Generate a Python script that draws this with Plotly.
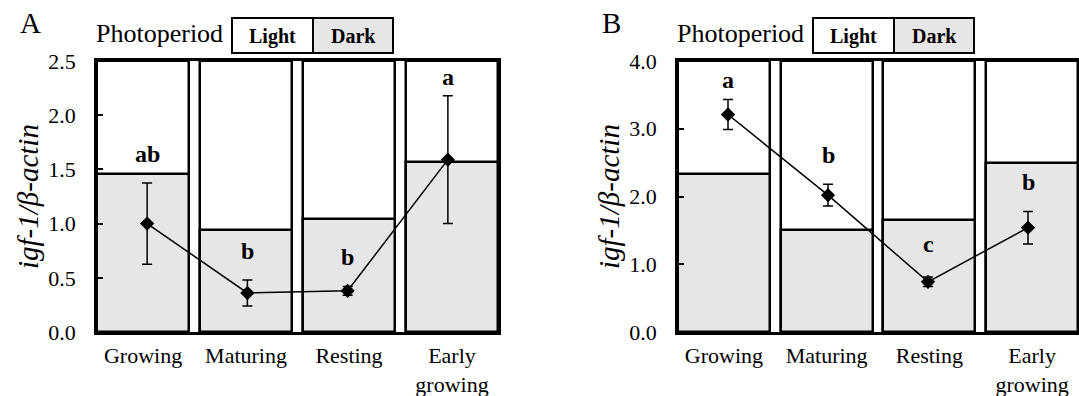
import plotly.graph_objects as go

# ---------------- data ----------------
stages = ["Growing", "Maturing", "Resting", "Early growing"]
tick_labels = ["Growing", "Maturing", "Resting", "Early<br>growing"]

# Panel A
a_ymax = 2.5
a_dark = [1.46, 0.94, 1.04, 1.57]          # photoperiod (dark share) scaled to axis
a_mean = [1.00, 0.36, 0.38, 1.59]
a_err = [0.375, 0.12, 0.04, 0.59]
a_letters = ["ab", "b", "b", "a"]
a_letter_y = [1.64, 0.75, 0.69, 2.35]

# Panel B
b_ymax = 4.0
b_dark = [2.33, 1.50, 1.66, 2.50]
b_mean = [3.21, 2.02, 0.74, 1.54]
b_err = [0.22, 0.16, 0.07, 0.24]
b_letters = ["a", "b", "c", "b"]
b_letter_y = [3.72, 2.61, 1.30, 2.21]

FONT = "Liberation Serif"
GRAY = "#e6e6e6"
W, H = 1079, 396

fig = go.Figure()

panels = [
    dict(xa="x", xb="x2", ya="y", ymax=a_ymax, dark=a_dark, mean=a_mean, err=a_err,
         letters=a_letters, ly=a_letter_y, dom=[97 / W, 498 / W], dtick=0.5, label="A"),
    dict(xa="x3", xb="x4", ya="y2", ymax=b_ymax, dark=b_dark, mean=b_mean, err=b_err,
         letters=b_letters, ly=b_letter_y, dom=[678 / W, 1078 / W], dtick=1.0, label="B"),
]

ydom = [(H - 332) / H, (H - 61) / H]
box_w = 0.894
box_half = 0.447

for i, p in enumerate(panels):
    # full-height light box
    fig.add_trace(go.Bar(x=stages, y=[p["ymax"]] * len(stages), xaxis=p["xa"], yaxis=p["ya"],
                         width=box_w, marker=dict(color="white", line=dict(color="black", width=2.5)),
                         showlegend=False, hoverinfo="skip"))
    # dark part
    fig.add_trace(go.Bar(x=stages, y=p["dark"], xaxis=p["xa"], yaxis=p["ya"],
                         width=box_w, marker=dict(color=GRAY, line=dict(color="black", width=2.5)),
                         showlegend=False, hoverinfo="skip"))
    # mean +/- error
    fig.add_trace(go.Scatter(x=stages, y=p["mean"], xaxis=p["xb"], yaxis=p["ya"],
                             mode="lines+markers",
                             line=dict(color="black", width=1.5),
                             marker=dict(symbol="diamond", size=11, color="black"),
                             error_y=dict(type="data", array=p["err"], color="black",
                                          thickness=1.5, width=5),
                             showlegend=False, cliponaxis=False))
    for s, t, yy in zip(stages, p["letters"], p["ly"]):
        fig.add_annotation(x=s, y=yy, xref=p["xb"], yref=p["ya"], text=f"<b>{t}</b>",
                           showarrow=False, font=dict(family=FONT, size=24, color="black"),
                           xanchor="center", yanchor="middle")

    x0, x1 = p["dom"]
    # y title
    fig.add_annotation(x=(x0 * W - 69) / W, y=(H - 197) / H, xref="paper", yref="paper",
                       text="<i>igf-1/β-actin</i>", textangle=-90, showarrow=False,
                       font=dict(family=FONT, size=29, color="black"),
                       xanchor="center", yanchor="middle")
    # panel label
    fig.add_annotation(x=(x0 * W - 67) / W, y=(H - 23) / H, xref="paper", yref="paper",
                       text=p["label"], showarrow=False,
                       font=dict(family=FONT, size=29, color="black"),
                       xanchor="center", yanchor="middle")
    # Photoperiod legend
    fig.add_annotation(x=x0, y=(H - 33) / H, xref="paper", yref="paper",
                       text="Photoperiod", showarrow=False,
                       font=dict(family=FONT, size=26, color="black"),
                       xanchor="left", yanchor="middle", xshift=-3)
    lx0 = x0 * W + 135
    lxm = lx0 + 81
    lx1 = lxm + 80
    fig.add_shape(type="rect", xref="paper", yref="paper", x0=lx0 / W, x1=lxm / W,
                  y0=(H - 53) / H, y1=(H - 18) / H, fillcolor="white",
                  line=dict(color="black", width=2))
    fig.add_shape(type="rect", xref="paper", yref="paper", x0=lxm / W, x1=lx1 / W,
                  y0=(H - 53) / H, y1=(H - 18) / H, fillcolor=GRAY,
                  line=dict(color="black", width=2))
    fig.add_annotation(x=(lx0 + lxm) / 2 / W, y=(H - 36) / H, xref="paper", yref="paper",
                       text="<b>Light</b>", showarrow=False,
                       font=dict(family=FONT, size=20, color="black"),
                       xanchor="center", yanchor="middle")
    fig.add_annotation(x=(lxm + lx1) / 2 / W, y=(H - 36) / H, xref="paper", yref="paper",
                       text="<b>Dark</b>", showarrow=False,
                       font=dict(family=FONT, size=20, color="black"),
                       xanchor="center", yanchor="middle")

axis_font = dict(family=FONT, size=22, color="black")

def xaxis_box(dom, anchor):
    return dict(domain=dom, anchor=anchor, type="category", categoryorder="array",
                categoryarray=stages, range=[-box_half, len(stages) - 1 + box_half],
                tickmode="array", tickvals=stages, ticktext=tick_labels,
                tickfont=dict(family=FONT, size=22, color="black"), ticks="",
                showline=True, linecolor="black", linewidth=2.5, mirror=True,
                showgrid=False, zeroline=False, fixedrange=True, ticklabelstandoff=2,
                automargin=False)

def xaxis_pts(over, anchor):
    return dict(overlaying=over, anchor=anchor, type="category", categoryorder="array",
                categoryarray=stages, range=[-0.5, len(stages) - 0.5],
                showticklabels=False, showgrid=False, zeroline=False, showline=False,
                ticks="", fixedrange=True, automargin=False)

def yaxis(anchor, ymax, dtick):
    return dict(domain=ydom, anchor=anchor, range=[0, ymax], dtick=dtick, tick0=0,
                tickformat=".1f", ticks="inside", ticklen=6, tickwidth=1.5, tickcolor="black",
                tickfont=axis_font, showline=True, linecolor="black", linewidth=2.5,
                mirror=True, showgrid=False, zeroline=False, fixedrange=True,
                ticklabelstandoff=14, automargin=False)

fig.update_layout(
    template="none",
    width=W, height=H,
    margin=dict(l=0, r=0, t=0, b=0, pad=0, autoexpand=False),
    paper_bgcolor="white", plot_bgcolor="white",
    barmode="overlay", bargap=0,
    font=dict(family=FONT, color="black"),
    xaxis=xaxis_box(panels[0]["dom"], "y"),
    xaxis2=xaxis_pts("x", "y"),
    xaxis3=xaxis_box(panels[1]["dom"], "y2"),
    xaxis4=xaxis_pts("x3", "y2"),
    yaxis=yaxis("x", a_ymax, 0.5),
    yaxis2=yaxis("x3", b_ymax, 1.0),
)

fig.write_html("out.html")
